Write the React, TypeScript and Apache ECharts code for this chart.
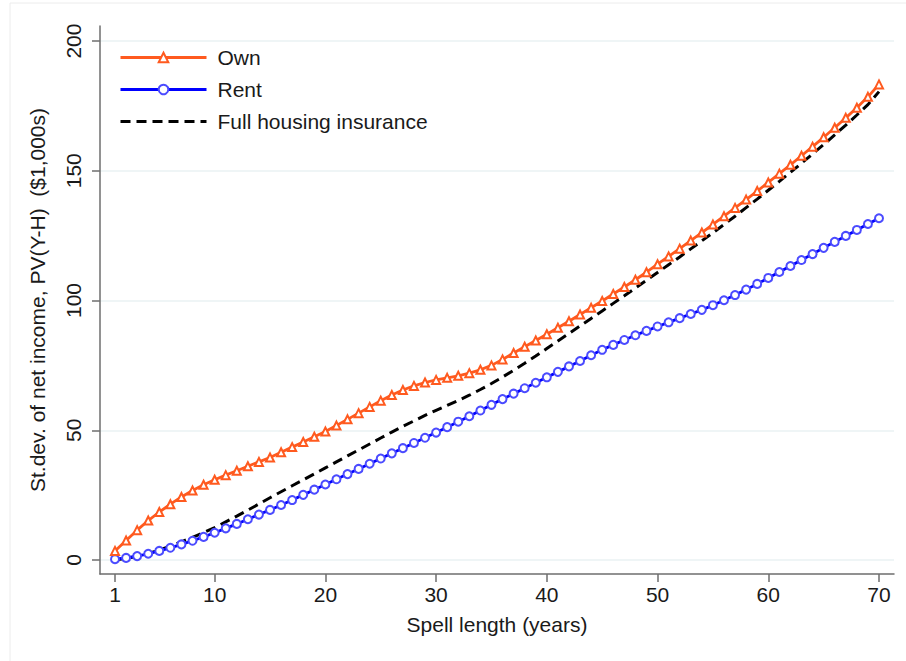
import React, { useEffect, useRef } from "react";
import * as echarts from "echarts";

const years: number[] = Array.from({ length: 70 }, (_, i) => i + 1);

const ownValues: number[] = [
  3.5, 7.5, 11.5, 15.2, 18.5, 21.5, 24.3, 26.8, 29.0, 30.9,
  32.7, 34.4, 36.1, 37.8, 39.5, 41.5, 43.5, 45.5, 47.5, 49.5,
  51.8, 54.2, 56.6, 59.0, 61.4, 63.6, 65.5, 67.1, 68.4, 69.4,
  70.2, 71.0, 72.0, 73.3, 75.0, 77.3, 79.8, 82.2, 84.6, 87.0,
  89.5, 92.0, 94.6, 97.2, 99.8, 102.5, 105.2, 108.0, 110.9, 114.0,
  117.0, 120.0, 123.1, 126.2, 129.3, 132.5, 135.7, 138.9, 142.2, 145.5,
  148.9, 152.3, 155.8, 159.3, 162.9, 166.6, 170.4, 174.3, 178.5, 183.3,
];

const rentValues: number[] = [
  0.3, 0.8, 1.5, 2.4, 3.5, 4.7, 6.0, 7.4, 8.9, 10.5,
  12.2, 13.9, 15.7, 17.5, 19.3, 21.2, 23.1, 25.1, 27.1, 29.1,
  31.1, 33.1, 35.1, 37.1, 39.1, 41.1, 43.1, 45.1, 47.1, 49.1,
  51.2, 53.3, 55.4, 57.6, 59.8, 62.0, 64.1, 66.2, 68.3, 70.4,
  72.5, 74.6, 76.7, 78.9, 81.0, 82.9, 84.8, 86.6, 88.3, 90.0,
  91.6, 93.2, 94.8, 96.4, 98.2, 100.1, 102.1, 104.2, 106.4, 108.7,
  111.0, 113.3, 115.6, 117.9, 120.3, 122.6, 124.9, 127.2, 129.5, 131.7,
];

const fullValues: number[] = [
  0.0, 0.6, 1.4, 2.5, 3.8, 5.3, 7.0, 8.7, 10.6, 12.5,
  14.7, 16.9, 19.2, 21.6, 24.0, 26.3, 28.6, 30.9, 33.2, 35.5,
  37.8, 40.1, 42.4, 44.7, 47.0, 49.3, 51.5, 53.6, 55.7, 57.7,
  59.6, 61.5, 63.5, 65.7, 68.0, 70.5, 73.1, 75.8, 78.6, 81.5,
  84.4, 87.3, 90.2, 93.1, 96.0, 98.9, 101.8, 104.8, 107.8, 110.8,
  113.8, 116.8, 119.9, 123.0, 126.1, 129.3, 132.5, 135.8, 139.1, 142.5,
  145.9, 149.4, 152.9, 156.5, 160.1, 163.8, 167.6, 171.5, 175.5, 180.5,
];

const xTicks: number[] = [1, 10, 20, 30, 40, 50, 60, 70];
const yTicks: number[] = [0, 50, 100, 150, 200];

const seriesNames: string[] = ["Own", "Rent", "Full housing insurance"];
const xTitle = "Spell length (years)";
const yTitle = "St.dev. of net income, PV(Y-H)  ($1,000s)";

const FONT = "'Liberation Sans', Arial, sans-serif";
const TEXT = "#1a1a1a";
const AXIS = "#6e6e6e";

export default function App() {
  const ref = useRef<HTMLDivElement>(null);
  useEffect(() => {
    if (!ref.current) return;
    const chart = echarts.init(ref.current, null, { renderer: "svg" });
    const pair = (vals: number[]) => years.map((y, i) => [y, vals[i]]);
    chart.setOption({
      animation: false,
      backgroundColor: "#ffffff",
      textStyle: { fontFamily: FONT },
      graphic: [
        {
          type: "rect",
          shape: { x: 10, y: 3, width: 905, height: 670 },
          style: { fill: "none", stroke: "#ececec", lineWidth: 1 },
          silent: true,
        },
      ],
      grid: { left: 100, right: 12, top: 26, bottom: 87, containLabel: false },
      legend: {
        orient: "vertical",
        left: 114,
        top: 42,
        itemWidth: 86,
        itemHeight: 12,
        itemGap: 11,
        lineStyle: { width: 3 },
        data: [
          { name: seriesNames[0] },
          { name: seriesNames[1] },
          { name: seriesNames[2], itemStyle: { opacity: 0 } },
        ],
        textStyle: { fontSize: 21, color: TEXT, fontFamily: FONT, padding: [0, 0, 0, 6] },
      },
      xAxis: {
        type: "value",
        min: -0.355,
        max: 71.355,
        name: xTitle,
        nameLocation: "middle",
        nameGap: 40,
        nameTextStyle: { fontSize: 21, color: TEXT, fontFamily: FONT },
        axisLine: { show: true, onZero: false, lineStyle: { color: AXIS, width: 1.5 } },
        axisTick: { show: true, length: 8, customValues: xTicks, lineStyle: { color: AXIS, width: 1.5 } },
        axisLabel: { customValues: xTicks, fontSize: 21, color: TEXT, margin: 10, fontFamily: FONT },
        splitLine: { show: false },
      },
      yAxis: {
        type: "value",
        min: -5.4,
        max: 205.8,
        name: yTitle,
        nameLocation: "middle",
        nameGap: 52,
        nameRotate: 90,
        nameTextStyle: { fontSize: 21, color: TEXT, fontFamily: FONT },
        axisLine: { show: true, onZero: false, lineStyle: { color: AXIS, width: 1.5 } },
        axisTick: { show: true, length: 8, customValues: yTicks, lineStyle: { color: AXIS, width: 1.5 } },
        axisLabel: { customValues: yTicks, rotate: 90, fontSize: 21, color: TEXT, margin: 16, fontFamily: FONT },
        splitLine: { show: true, lineStyle: { color: "#eaf2f3", width: 1.5 } },
      },
      series: [
        {
          name: seriesNames[0],
          type: "line",
          data: pair(ownValues),
          symbol: "emptyTriangle",
          symbolSize: 8,
          showAllSymbol: true,
          lineStyle: { color: "#ff5a1f", width: 2.8 },
          itemStyle: { color: "#ff5a1f", borderWidth: 1.2 },
          z: 4,
        },
        {
          name: seriesNames[1],
          type: "line",
          data: pair(rentValues),
          symbol: "emptyCircle",
          symbolSize: 8,
          showAllSymbol: true,
          lineStyle: { color: "#0000ff", width: 2.8 },
          itemStyle: { color: "#4b4bff", borderWidth: 1.2 },
          z: 3,
        },
        {
          name: seriesNames[2],
          type: "line",
          data: pair(fullValues),
          symbol: "none",
          lineStyle: { color: "#000000", width: 3, type: [10, 6] },
          itemStyle: { color: "#000000" },
          z: 2,
        },
      ],
    });
    return () => chart.dispose();
  }, []);
  return (
    <div
      ref={ref}
      style={{ position: "fixed", left: 0, top: 0, width: 906, height: 661 }}
    />
  );
}
